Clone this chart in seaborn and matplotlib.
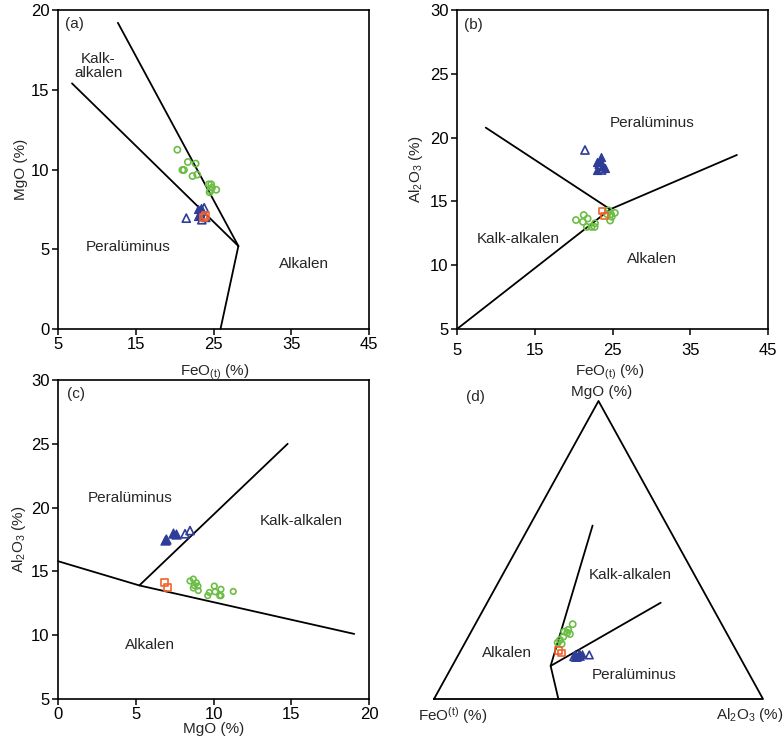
import numpy as np
import pandas as pd
import matplotlib
matplotlib.use("Agg")
import matplotlib.pyplot as plt
import seaborn as sns

sns.set_style("ticks")
plt.rcParams['font.family'] = ['Liberation Sans', 'DejaVu Sans']
plt.rcParams['mathtext.fontset'] = 'custom'
plt.rcParams['mathtext.rm'] = 'Liberation Sans'
plt.rcParams['mathtext.it'] = 'Liberation Sans'

GREEN = "#6cbd45"
ORANGE = "#f0642c"
BLUE = "#2e3d98"

# ---------------- Panel (a): FeO(t) vs MgO ----------------
a_line1_x = [6.8, 28.2]
a_line1_y = [15.4, 5.2]
a_line2_x = [12.7, 28.2]
a_line2_y = [19.2, 5.2]
a_line3_x = [28.2, 25.9]
a_line3_y = [5.2, 0.0]
a_green_feo = [20.35, 21.0, 21.2, 21.7, 22.7, 22.3, 22.9, 24.4, 24.7, 24.5, 24.8, 25.35, 24.6]
a_green_mgo = [11.24, 9.97, 9.97, 10.47, 10.37, 9.59, 9.68, 9.07, 9.07, 8.57, 8.86, 8.73, 8.70]
a_blue_fill_feo = [23.0, 23.2, 23.4, 23.0]
a_blue_fill_mgo = [7.5, 7.3, 7.6, 7.1]
a_blue_open_feo = [21.5, 23.8, 23.5, 24.0]
a_blue_open_mgo = [6.95, 7.6, 6.85, 7.0]
a_orange_feo = [23.7, 24.0]
a_orange_mgo = [7.0, 7.1]

# ---------------- Panel (b): FeO(t) vs Al2O3 ----------------
b_line1_x = [8.7, 24.7]
b_line1_y = [20.78, 14.38]
b_line2_x = [5.0, 24.7, 41.0]
b_line2_y = [5.0, 14.38, 18.64]
b_green_feo = [20.3, 21.3, 21.2, 21.8, 21.7, 22.3, 22.75, 22.7, 24.5, 24.8, 24.7, 25.3, 24.9, 24.3]
b_green_al = [13.54, 13.93, 13.4, 13.65, 13.0, 13.0, 13.28, 13.0, 14.3, 14.0, 13.5, 14.1, 13.8, 14.0]
b_blue_fill_feo = [23.5, 22.97, 23.4, 23.8, 24.0, 23.06]
b_blue_fill_al = [18.47, 18.06, 18.1, 17.8, 17.6, 17.46]
b_blue_open_feo = [21.46, 23.6, 23.3]
b_blue_open_al = [19.03, 17.46, 17.9]
b_orange_feo = [23.65, 24.0]
b_orange_al = [14.25, 13.86]

# ---------------- Panel (c): MgO vs Al2O3 ----------------
c_line1_x = [0.0, 5.23, 19.05]
c_line1_y = [15.8, 13.9, 10.1]
c_line2_x = [5.23, 14.77]
c_line2_y = [13.9, 25.0]
c_green_mgo = [8.49, 8.7, 8.76, 8.9, 8.7, 9.02, 9.0, 9.63, 9.73, 10.05, 10.1, 10.48, 10.48, 10.4, 11.27]
c_green_al = [14.25, 14.4, 13.9, 14.1, 13.7, 13.5, 13.85, 13.1, 13.35, 13.85, 13.4, 13.6, 13.1, 13.1, 13.43]
c_blue_fill_mgo = [6.88, 6.95, 7.41, 7.56]
c_blue_fill_al = [17.5, 17.55, 18.0, 17.9]
c_blue_open_mgo = [8.17, 8.49]
c_blue_open_al = [17.95, 18.2]
c_orange_mgo = [6.84, 7.05]
c_orange_al = [14.14, 13.75]

# ---------------- Panel (d): ternary FeO(t) - MgO - Al2O3 (%) ----------------
d_tri_mgo = [0, 100, 0, 0]
d_tri_al = [0, 0, 100, 0]
d_bnd_a_mgo = [0.0, 11.1, 58.2]
d_bnd_a_al = [37.8, 29.9, 19.1]
d_bnd_b_mgo = [11.1, 32.3]
d_bnd_b_al = [29.9, 52.75]
d_green_mgo = [25.1, 23.2, 21.8, 22.6, 20.9, 19.8, 18.9, 18.5, 22.3]
d_green_al = [29.6, 29.2, 30.4, 28.3, 28.85, 28.4, 28.15, 29.55, 29.35]
d_orange_mgo = [16.2, 15.5]
d_orange_al = [29.8, 31.05]
d_blue_fill_mgo = [15.0, 14.2, 15.5, 14.5, 15.0, 14.0]
d_blue_fill_al = [35.5, 36.4, 36.25, 37.25, 37.5, 35.8]
d_blue_open_mgo = [14.8, 14.2]
d_blue_open_al = [39.8, 35.4]


def tern(mgo, al):
    m = np.asarray(mgo, float) / 100.0
    a = np.asarray(al, float) / 100.0
    return a + m / 2.0, m


W, H = 783, 742
fig = plt.figure(figsize=(W / 100, H / 100), dpi=100)


def px_axes(l, t, r, b):
    return fig.add_axes([l / W, 1 - b / H, (r - l) / W, (b - t) / H])


ax_a = px_axes(58, 10, 369, 329)
ax_b = px_axes(457, 10, 768, 329)
ax_c = px_axes(58, 380, 369, 699)
ax_d = px_axes(434, 401, 763, 699)

FS = 11
TFS = 12
S_CIRC = 20
S_TRI = 34
S_SQ = 22


def line(ax, xs, ys):
    sns.lineplot(x=xs, y=ys, ax=ax, sort=False, estimator=None, color='black',
                 linewidth=1.3, clip_on=False)


def pts(ax, xs, ys, kind, color, s, filled=False):
    if filled:
        sns.scatterplot(x=xs, y=ys, ax=ax, marker=kind, s=s, color=color,
                        edgecolor=color, linewidth=0.8, clip_on=False, zorder=5)
    else:
        sns.scatterplot(x=xs, y=ys, ax=ax, marker=kind, s=s, facecolors='none',
                        edgecolors=color, linewidths=1.2, clip_on=False, zorder=5)


def style(ax, xlim, ylim, xt, yt, pad_x=3):
    ax.set_xlim(*xlim)
    ax.set_ylim(*ylim)
    ax.set_xticks(xt)
    ax.set_yticks(yt)
    ax.tick_params(direction='out', length=4, width=1.1, labelsize=TFS, colors='black', pad=2)
    ax.tick_params(axis='x', pad=pad_x)
    for sp in ax.spines.values():
        sp.set_visible(True)
        sp.set_linewidth(1.2)
        sp.set_color('black')


# Panel (a)
line(ax_a, a_line1_x, a_line1_y)
line(ax_a, a_line2_x, a_line2_y)
line(ax_a, a_line3_x, a_line3_y)
pts(ax_a, a_green_feo, a_green_mgo, 'o', GREEN, S_CIRC)
pts(ax_a, a_blue_open_feo, a_blue_open_mgo, '^', BLUE, S_TRI)
pts(ax_a, a_blue_fill_feo, a_blue_fill_mgo, '^', BLUE, S_TRI, filled=True)
pts(ax_a, a_orange_feo, a_orange_mgo, 's', ORANGE, S_SQ)
style(ax_a, (5, 45), (0, 20), [5, 15, 25, 35, 45], [0, 5, 10, 15, 20], pad_x=2)
ax_a.set_xlabel(r'FeO$_{\rm(t)}$ (%)', fontsize=FS)
ax_a.set_ylabel('MgO (%)', fontsize=FS)
ax_a.xaxis.set_label_coords(0.505, -0.105)
ax_a.yaxis.set_label_coords(-0.096, 0.5)
ax_a.text(5.9, 19.1, '(a)', fontsize=FS, va='center', ha='left')
ax_a.text(10.2, 16.5, 'Kalk-\nalkalen', fontsize=FS, va='center', ha='center', linespacing=1.0)
ax_a.text(14.0, 5.15, 'Peralüminus', fontsize=FS, va='center', ha='center')
ax_a.text(36.6, 4.07, 'Alkalen', fontsize=FS, va='center', ha='center')

# Panel (b)
line(ax_b, b_line1_x, b_line1_y)
line(ax_b, b_line2_x, b_line2_y)
pts(ax_b, b_green_feo, b_green_al, 'o', GREEN, S_CIRC)
pts(ax_b, b_blue_fill_feo, b_blue_fill_al, '^', BLUE, S_TRI, filled=True)
pts(ax_b, b_blue_open_feo, b_blue_open_al, '^', BLUE, S_TRI)
pts(ax_b, b_orange_feo, b_orange_al, 's', ORANGE, S_SQ)
style(ax_b, (5, 45), (5, 30), [5, 15, 25, 35, 45], [5, 10, 15, 20, 25, 30], pad_x=6)
ax_b.set_xlabel(r'FeO$_{\rm(t)}$ (%)', fontsize=FS)
ax_b.set_ylabel(r'Al$_{\rm 2}$O$_{\rm 3}$ (%)', fontsize=FS)
ax_b.xaxis.set_label_coords(0.49, -0.105)
ax_b.yaxis.set_label_coords(-0.103, 0.5)
ax_b.text(5.9, 28.8, '(b)', fontsize=FS, va='center', ha='left')
ax_b.text(30.1, 21.17, 'Peralüminus', fontsize=FS, va='center', ha='center')
ax_b.text(12.9, 12.03, 'Kalk-alkalen', fontsize=FS, va='center', ha='center')
ax_b.text(30.1, 10.46, 'Alkalen', fontsize=FS, va='center', ha='center')

# Panel (c)
line(ax_c, c_line1_x, c_line1_y)
line(ax_c, c_line2_x, c_line2_y)
pts(ax_c, c_green_mgo, c_green_al, 'o', GREEN, S_CIRC - 4)
pts(ax_c, c_blue_fill_mgo, c_blue_fill_al, '^', BLUE, S_TRI + 10, filled=True)
pts(ax_c, c_blue_open_mgo, c_blue_open_al, '^', BLUE, S_TRI)
pts(ax_c, c_orange_mgo, c_orange_al, 's', ORANGE, S_SQ)
style(ax_c, (0, 20), (5, 30), [0, 5, 10, 15, 20], [5, 10, 15, 20, 25, 30], pad_x=2)
ax_c.set_xlabel('MgO (%)', fontsize=FS)
ax_c.set_ylabel(r'Al$_{\rm 2}$O$_{\rm 3}$ (%)', fontsize=FS)
ax_c.xaxis.set_label_coords(0.5, -0.072)
ax_c.yaxis.set_label_coords(-0.096, 0.5)
ax_c.text(0.58, 28.9, '(c)', fontsize=FS, va='center', ha='left')
ax_c.text(4.67, 20.73, 'Peralüminus', fontsize=FS, va='center', ha='center')
ax_c.text(15.63, 18.95, 'Kalk-alkalen', fontsize=FS, va='center', ha='center')
ax_c.text(5.94, 9.23, 'Alkalen', fontsize=FS, va='center', ha='center')

# Panel (d) ternary
tx, ty = tern(d_tri_mgo, d_tri_al)
line(ax_d, tx, ty)
bx, by = tern(d_bnd_a_mgo, d_bnd_a_al)
line(ax_d, bx, by)
bx, by = tern(d_bnd_b_mgo, d_bnd_b_al)
line(ax_d, bx, by)
gx, gy = tern(d_green_mgo, d_green_al)
pts(ax_d, gx, gy, 'o', GREEN, S_CIRC)
ox, oy = tern(d_orange_mgo, d_orange_al)
pts(ax_d, ox, oy, 's', ORANGE, S_SQ)
fx, fy = tern(d_blue_fill_mgo, d_blue_fill_al)
pts(ax_d, fx, fy, '^', BLUE, S_TRI - 4, filled=True)
qx, qy = tern(d_blue_open_mgo, d_blue_open_al)
pts(ax_d, qx, qy, '^', BLUE, S_TRI - 4)
ax_d.set_xlim(0, 1)
ax_d.set_ylim(0, 1)
ax_d.axis('off')
ax_d.text(0.596, 0.416, 'Kalk-alkalen', fontsize=FS, va='center', ha='center')
ax_d.text(0.221, 0.153, 'Alkalen', fontsize=FS, va='center', ha='center')
ax_d.text(0.608, 0.0805, 'Peralüminus', fontsize=FS, va='center', ha='center')
ax_d.text(0.511, 1.03, 'MgO (%)', fontsize=FS, va='center', ha='center')
ax_d.text(0.125, 1.013, '(d)', fontsize=FS, va='center', ha='center')
ax_d.text(0.058, -0.054, r'FeO$^{\rm (t)}$ (%)', fontsize=FS, va='center', ha='center')
ax_d.text(0.96, -0.054, r'Al$_{\rm 2}$O$_{\rm 3}$ (%)', fontsize=FS, va='center', ha='center')

fig.savefig('out.png', dpi=100)
